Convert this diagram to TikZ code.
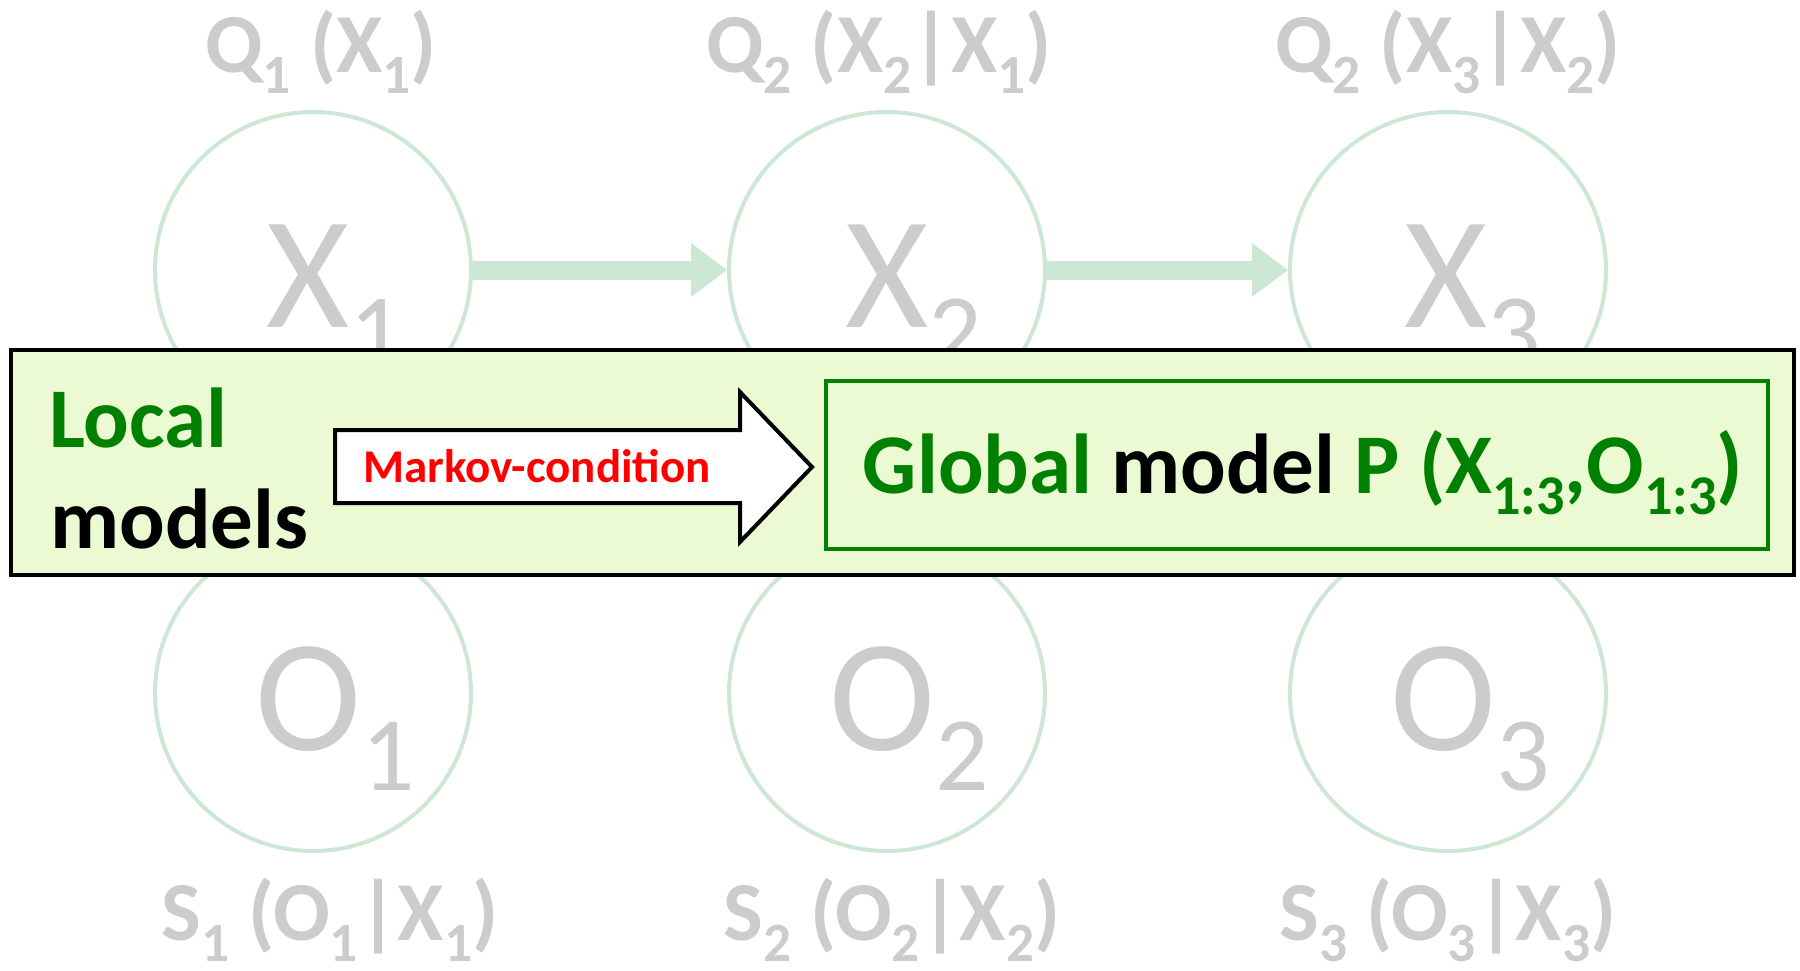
\documentclass[tikz,border=0pt]{standalone}
\usepackage{fontspec}
\setmainfont{Carlito}
\usetikzlibrary{arrows.meta}
\definecolor{cg}{RGB}{204,232,212}
\definecolor{lg}{RGB}{204,204,204}
\definecolor{bf}{RGB}{235,250,210}
\definecolor{dg}{RGB}{0,128,0}
\definecolor{rd}{RGB}{255,0,0}
\newcommand\psub[1]{\raisebox{-0.25em}{\scalebox{0.66}{#1}}}
\begin{document}
\begin{tikzpicture}[x=1pt,y=-1pt,
  circ/.style={circle,draw=cg,line width=4pt,minimum size=316pt,inner sep=0pt},
  big/.style={anchor=base west,text=lg,font=\fontsize{160}{160}\selectfont,inner sep=0pt},
  lab/.style={anchor=base,text=lg,font=\fontsize{84}{84}\selectfont\bfseries,inner sep=0pt},
  conn/.style={draw=cg,line width=19pt,-{Triangle[length=36pt,width=54pt,line width=0pt]}},
  bigtxt/.style={anchor=base west,font=\fontsize{85}{85}\selectfont\bfseries,inner sep=0pt}]
\useasboundingbox (0,0) rectangle (1800,970);
% circles
\node[circ] (X1) at (313,270) {};
\node[circ] (X2) at (887,270) {};
\node[circ] (X3) at (1448,270) {};
\node[circ] (O1) at (313,693) {};
\node[circ] (O2) at (887,693) {};
\node[circ] (O3) at (1448,693) {};
% letters
\node[big] (tX1) at (266,327) {X\psub{1}};
\node[big] (tX2) at (845,327) {X\psub{2}};
\node[big] (tX3) at (1404,327) {X\psub{3}};
\node[big] (tO1) at (255,750) {O\psub{1}};
\node[big] (tO2) at (829,750) {O\psub{2}};
\node[big] (tO3) at (1390,750) {O\psub{3}};
% labels
\node[lab] (q1) at (321,72) {Q\psub{1} (X\psub{1})};
\node[lab] (q2) at (879,72) {Q\psub{2} (X\psub{2}|X\psub{1})};
\node[lab] (q3) at (1448,72) {Q\psub{2} (X\psub{3}|X\psub{2})};
\node[lab] (s1) at (330,940) {S\psub{1} (O\psub{1}|X\psub{1})};
\node[lab] (s2) at (892,940) {S\psub{2} (O\psub{2}|X\psub{2})};
\node[lab] (s3) at (1448,940) {S\psub{3} (O\psub{3}|X\psub{3})};
% connectors
\draw[conn] (X1) -- (X2);
\draw[conn] (X2) -- (X3);
% box
\node[draw=black,line width=4.5pt,fill=bf,minimum width=1783pt,minimum height=225pt,inner sep=0pt] (box) at (902.5,462.5) {};
\node[draw=dg,line width=3.8pt,minimum width=942pt,minimum height=168pt,inner sep=0pt] (global) at (1297,465) {};
\node[bigtxt,text=dg] (local) at (49,447) {Local};
\node[bigtxt,text=black] (models) at (50,548) {models};
\draw[black,line width=4pt,fill=white,line join=miter] (335,430) -- (740,430) -- (740,392) -- (812,467) -- (740,542) -- (740,503) -- (335,503) -- cycle;
\node[anchor=base,text=rd,font=\fontsize{47}{47}\selectfont\bfseries,inner sep=0pt] (markov) at (537,482) {Markov-condition};
\node[anchor=base,font=\fontsize{85}{85}\selectfont\bfseries,inner sep=0pt] (gtext) at (1303,493) {{\color{dg}Global} model {\color{dg}P (X\psub{1:3},O\psub{1:3})}};
\end{tikzpicture}
\end{document}
